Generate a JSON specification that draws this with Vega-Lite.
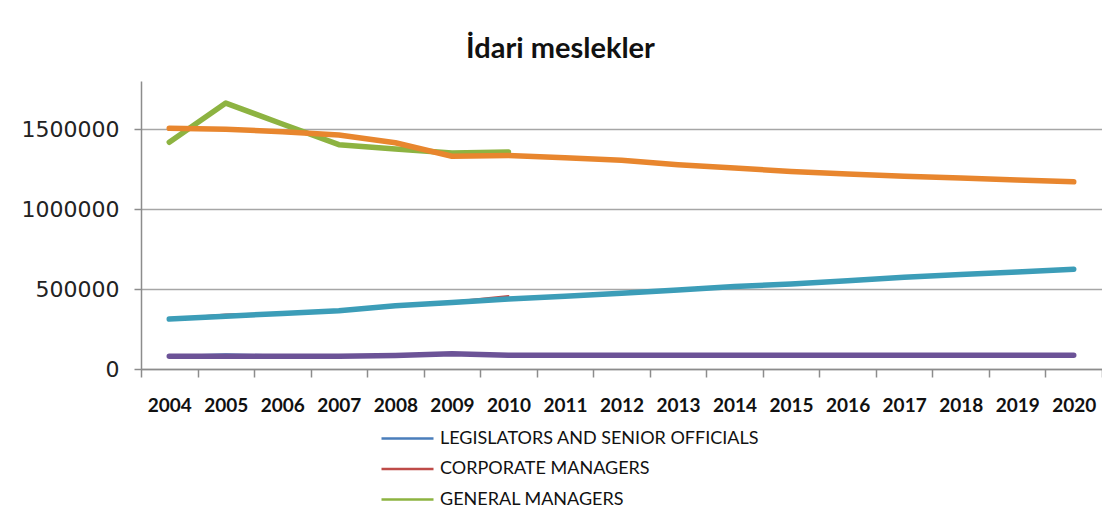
{
  "$schema": "https://vega.github.io/schema/vega-lite/v6.json",
  "width": 961,
  "height": 288,
  "autosize": {"type": "none"},
  "padding": {"left": 141, "top": 81, "right": 0, "bottom": 155},
  "background": "white",
  "title": {
    "text": "İdari meslekler",
    "font": "Lato",
    "fontSize": 29,
    "fontWeight": "bold",
    "color": "#111111",
    "anchor": "middle",
    "dx": -61,
    "offset": 17
  },
  "config": {
    "view": {"stroke": null},
    "font": "Lato"
  },
  "data": {
    "values": [
      {"year": "2004", "series": "LEGISLATORS AND SENIOR OFFICIALS", "value": 82000},
      {"year": "2005", "series": "LEGISLATORS AND SENIOR OFFICIALS", "value": 92000},
      {"year": "2006", "series": "LEGISLATORS AND SENIOR OFFICIALS", "value": 85000},
      {"year": "2007", "series": "LEGISLATORS AND SENIOR OFFICIALS", "value": 80000},
      {"year": "2008", "series": "LEGISLATORS AND SENIOR OFFICIALS", "value": 78000},
      {"year": "2009", "series": "LEGISLATORS AND SENIOR OFFICIALS", "value": 90000},
      {"year": "2010", "series": "LEGISLATORS AND SENIOR OFFICIALS", "value": 86000},
      {"year": "2004", "series": "CORPORATE MANAGERS", "value": 314000},
      {"year": "2005", "series": "CORPORATE MANAGERS", "value": 340000},
      {"year": "2006", "series": "CORPORATE MANAGERS", "value": 350000},
      {"year": "2007", "series": "CORPORATE MANAGERS", "value": 358000},
      {"year": "2008", "series": "CORPORATE MANAGERS", "value": 402000},
      {"year": "2009", "series": "CORPORATE MANAGERS", "value": 420000},
      {"year": "2010", "series": "CORPORATE MANAGERS", "value": 456000},
      {"year": "2004", "series": "GENERAL MANAGERS", "value": 1417000},
      {"year": "2005", "series": "GENERAL MANAGERS", "value": 1662000},
      {"year": "2006", "series": "GENERAL MANAGERS", "value": 1531000},
      {"year": "2007", "series": "GENERAL MANAGERS", "value": 1402000},
      {"year": "2008", "series": "GENERAL MANAGERS", "value": 1375000},
      {"year": "2009", "series": "GENERAL MANAGERS", "value": 1350000},
      {"year": "2010", "series": "GENERAL MANAGERS", "value": 1356000},
      {"year": "2004", "series": "LEGISLATORS AND SENIOR OFFICIALS (projection)", "value": 80000},
      {"year": "2005", "series": "LEGISLATORS AND SENIOR OFFICIALS (projection)", "value": 80000},
      {"year": "2006", "series": "LEGISLATORS AND SENIOR OFFICIALS (projection)", "value": 79000},
      {"year": "2007", "series": "LEGISLATORS AND SENIOR OFFICIALS (projection)", "value": 79000},
      {"year": "2008", "series": "LEGISLATORS AND SENIOR OFFICIALS (projection)", "value": 85000},
      {"year": "2009", "series": "LEGISLATORS AND SENIOR OFFICIALS (projection)", "value": 95000},
      {"year": "2010", "series": "LEGISLATORS AND SENIOR OFFICIALS (projection)", "value": 86000},
      {"year": "2011", "series": "LEGISLATORS AND SENIOR OFFICIALS (projection)", "value": 86000},
      {"year": "2012", "series": "LEGISLATORS AND SENIOR OFFICIALS (projection)", "value": 86000},
      {"year": "2013", "series": "LEGISLATORS AND SENIOR OFFICIALS (projection)", "value": 86000},
      {"year": "2014", "series": "LEGISLATORS AND SENIOR OFFICIALS (projection)", "value": 86000},
      {"year": "2015", "series": "LEGISLATORS AND SENIOR OFFICIALS (projection)", "value": 86000},
      {"year": "2016", "series": "LEGISLATORS AND SENIOR OFFICIALS (projection)", "value": 86000},
      {"year": "2017", "series": "LEGISLATORS AND SENIOR OFFICIALS (projection)", "value": 86000},
      {"year": "2018", "series": "LEGISLATORS AND SENIOR OFFICIALS (projection)", "value": 86000},
      {"year": "2019", "series": "LEGISLATORS AND SENIOR OFFICIALS (projection)", "value": 86000},
      {"year": "2020", "series": "LEGISLATORS AND SENIOR OFFICIALS (projection)", "value": 86000},
      {"year": "2004", "series": "CORPORATE MANAGERS (projection)", "value": 312000},
      {"year": "2005", "series": "CORPORATE MANAGERS (projection)", "value": 330000},
      {"year": "2006", "series": "CORPORATE MANAGERS (projection)", "value": 347000},
      {"year": "2007", "series": "CORPORATE MANAGERS (projection)", "value": 364000},
      {"year": "2008", "series": "CORPORATE MANAGERS (projection)", "value": 395000},
      {"year": "2009", "series": "CORPORATE MANAGERS (projection)", "value": 416000},
      {"year": "2010", "series": "CORPORATE MANAGERS (projection)", "value": 437000},
      {"year": "2011", "series": "CORPORATE MANAGERS (projection)", "value": 454000},
      {"year": "2012", "series": "CORPORATE MANAGERS (projection)", "value": 473000},
      {"year": "2013", "series": "CORPORATE MANAGERS (projection)", "value": 494000},
      {"year": "2014", "series": "CORPORATE MANAGERS (projection)", "value": 515000},
      {"year": "2015", "series": "CORPORATE MANAGERS (projection)", "value": 532000},
      {"year": "2016", "series": "CORPORATE MANAGERS (projection)", "value": 551000},
      {"year": "2017", "series": "CORPORATE MANAGERS (projection)", "value": 574000},
      {"year": "2018", "series": "CORPORATE MANAGERS (projection)", "value": 590000},
      {"year": "2019", "series": "CORPORATE MANAGERS (projection)", "value": 606000},
      {"year": "2020", "series": "CORPORATE MANAGERS (projection)", "value": 624000},
      {"year": "2004", "series": "GENERAL MANAGERS (projection)", "value": 1504000},
      {"year": "2005", "series": "GENERAL MANAGERS (projection)", "value": 1498000},
      {"year": "2006", "series": "GENERAL MANAGERS (projection)", "value": 1483000},
      {"year": "2007", "series": "GENERAL MANAGERS (projection)", "value": 1462000},
      {"year": "2008", "series": "GENERAL MANAGERS (projection)", "value": 1414000},
      {"year": "2009", "series": "GENERAL MANAGERS (projection)", "value": 1330000},
      {"year": "2010", "series": "GENERAL MANAGERS (projection)", "value": 1335000},
      {"year": "2011", "series": "GENERAL MANAGERS (projection)", "value": 1321000},
      {"year": "2012", "series": "GENERAL MANAGERS (projection)", "value": 1305000},
      {"year": "2013", "series": "GENERAL MANAGERS (projection)", "value": 1277000},
      {"year": "2014", "series": "GENERAL MANAGERS (projection)", "value": 1256000},
      {"year": "2015", "series": "GENERAL MANAGERS (projection)", "value": 1235000},
      {"year": "2016", "series": "GENERAL MANAGERS (projection)", "value": 1218000},
      {"year": "2017", "series": "GENERAL MANAGERS (projection)", "value": 1204000},
      {"year": "2018", "series": "GENERAL MANAGERS (projection)", "value": 1193000},
      {"year": "2019", "series": "GENERAL MANAGERS (projection)", "value": 1181000},
      {"year": "2020", "series": "GENERAL MANAGERS (projection)", "value": 1170000}
    ]
  },
  "encoding": {
    "x": {
      "field": "year",
      "type": "ordinal",
      "bandPosition": 0.5,
      "scale": {"type": "band", "paddingInner": 0, "paddingOuter": 0},
      "axis": {
        "title": null,
        "tickBand": "extent",
        "labelAngle": 0,
        "labelFont": "Lato",
        "labelFontSize": 19,
        "labelFontWeight": "bold",
        "labelColor": "#111111",
        "labelPadding": 19,
        "tickSize": 8,
        "tickColor": "#8c8c8c",
        "domainColor": "#8c8c8c",
        "domainWidth": 1.5,
        "tickWidth": 1.5,
        "grid": false
      }
    },
    "y": {
      "field": "value",
      "type": "quantitative",
      "scale": {"domain": [0, 1800000], "nice": false},
      "axis": {
        "title": null,
        "values": [0, 500000, 1000000, 1500000],
        "format": "d",
        "labelFont": "DejaVu Sans",
        "labelFontSize": 22,
        "labelColor": "#222222",
        "labelPadding": 15,
        "tickSize": 7,
        "tickColor": "#8c8c8c",
        "domainColor": "#8c8c8c",
        "domainWidth": 1.5,
        "tickWidth": 1.5,
        "grid": true,
        "gridColor": "#a6a6a6",
        "gridWidth": 1.5
      }
    },
    "color": {
      "field": "series",
      "type": "nominal",
      "scale": {
        "domain": [
          "LEGISLATORS AND SENIOR OFFICIALS",
          "CORPORATE MANAGERS",
          "GENERAL MANAGERS",
          "LEGISLATORS AND SENIOR OFFICIALS (projection)",
          "CORPORATE MANAGERS (projection)",
          "GENERAL MANAGERS (projection)"
        ],
        "range": ["#4a7ebb", "#be4b48", "#8db341", "#6c5397", "#3c9db8", "#e8862e"]
      },
      "legend": {
        "values": ["LEGISLATORS AND SENIOR OFFICIALS", "CORPORATE MANAGERS", "GENERAL MANAGERS"],
        "title": null,
        "orient": "none",
        "legendX": 252,
        "legendY": 343,
        "symbolType": "M-2,0H2",
        "symbolSize": 676,
        "symbolStrokeWidth": 2.5,
        "symbolFillColor": "transparent",
        "rowPadding": 6.5,
        "labelOffset": 18,
        "labelFont": "Lato",
        "labelFontSize": 18,
        "labelColor": "#111111",
        "labelLimit": 500
      }
    }
  },
  "layer": [
    {
      "transform": [{"filter": "datum.series === 'LEGISLATORS AND SENIOR OFFICIALS' || datum.series === 'CORPORATE MANAGERS'"}],
      "mark": {"type": "line", "strokeWidth": 2, "strokeCap": "round", "strokeJoin": "round"}
    },
    {
      "transform": [{"filter": "datum.series !== 'LEGISLATORS AND SENIOR OFFICIALS' && datum.series !== 'CORPORATE MANAGERS'"}],
      "mark": {"type": "line", "strokeWidth": 5.5, "strokeCap": "round", "strokeJoin": "round"}
    }
  ]
}
